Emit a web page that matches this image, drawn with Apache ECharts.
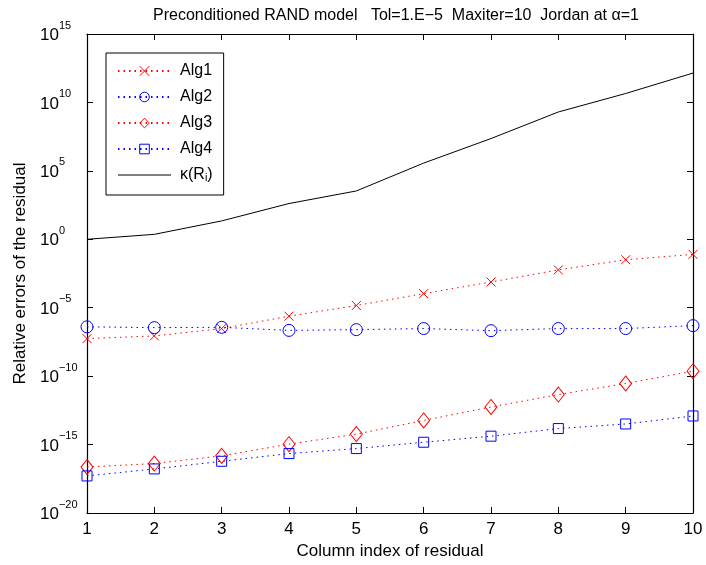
<!DOCTYPE html>
<html><head><meta charset="utf-8">
<script src="https://cdn.jsdelivr.net/npm/echarts@6/dist/echarts.min.js"></script>
<style>html,body{margin:0;padding:0;background:#fff}#c{width:706px;height:565px}</style>
</head><body><div id="c"></div>
<script>
// Data
const columns = [1, 2, 3, 4, 5, 6, 7, 8, 9, 10];
const alg1 = [5.5e-8, 8.7e-8, 3.0e-7, 2.4e-6, 1.45e-5, 1.07e-4, 7.6e-4, 5.8e-3, 3.2e-2, 7.9e-2];
const alg2 = [4.0e-7, 3.5e-7, 3.7e-7, 2.2e-7, 2.5e-7, 3.0e-7, 2.1e-7, 3.0e-7, 3.0e-7, 4.9e-7];
const alg3 = [2.3e-17, 4.1e-17, 1.5e-16, 1.07e-15, 5.8e-15, 5.8e-14, 5.6e-13, 4.5e-12, 2.9e-11, 2.3e-10];
const alg4 = [5.1e-18, 1.66e-17, 6.0e-17, 2.2e-16, 5.1e-16, 1.48e-15, 4.1e-15, 1.48e-14, 3.2e-14, 1.23e-13];
const kappa = [1.0, 2.3, 22, 410, 3400, 3.7e5, 2.3e7, 2.0e9, 4.5e10, 1.4e12];
const seriesNames = ['Alg1', 'Alg2', 'Alg3', 'Alg4', 'κ(Ri)'];
const titleText = 'Preconditioned RAND model   Tol=1.E\u22125  Maxiter=10  Jordan at \u03b1=1';
const xTitle = 'Column index of residual';
const yTitle = 'Relative errors of the residual';

const FONT = 'Liberation Sans, Arial, Helvetica, sans-serif';
const RED = '#ff0000', BLUE = '#0000ff';
const pairs = arr => columns.map((c, i) => [c, arr[i]]);

function dotted(name, data, color, symbol, size) {
  return {
    name, type: 'line', data: pairs(data),
    symbol, symbolSize: size, showSymbol: true,
    lineStyle: { color, width: 1, type: [1.5, 4] },
    itemStyle: { color: 'transparent', borderColor: color, borderWidth: 1 },
    emphasis: { disabled: true }, animation: false
  };
}

const chart = echarts.init(document.getElementById('c'), null, { renderer: 'canvas' });
const tickCommon = { inside: true, length: 6, lineStyle: { color: '#000', width: 1 } };
const axisLineCommon = { show: true, onZero: false, lineStyle: { color: '#000', width: 1.2 } };

chart.setOption({
  backgroundColor: '#fff',
  animation: false,
  textStyle: { fontFamily: FONT },
  title: {
    text: titleText, left: 391, top: 3, textAlign: 'center',
    textStyle: { fontFamily: FONT, fontSize: 16, fontWeight: 'normal', color: '#000' }
  },
  grid: { left: 87, right: 13, top: 34, bottom: 52, containLabel: false },
  legend: {
    orient: 'vertical', left: 106, top: 53,
    padding: [10, 11, 12, 11], itemGap: 10, itemWidth: 53, itemHeight: 12,
    borderColor: '#000', borderWidth: 1, backgroundColor: '#fff',
    itemStyle: { borderWidth: 1 },
    data: [
      { name: seriesNames[0] }, { name: seriesNames[1] }, { name: seriesNames[2] }, { name: seriesNames[3] },
      { name: seriesNames[4], icon: 'path://M0,0h100v2h-100z', itemStyle: { color: '#000' } }
    ],
    formatter: n => n === 'κ(Ri)' ? '{a|κ(R}{i|i}{a|)}' : n,
    textStyle: {
      fontFamily: FONT, fontSize: 16, color: '#000', lineHeight: 16, padding: [0, 0, 0, 4],
      rich: {
        a: { fontFamily: FONT, fontSize: 16, color: '#000', verticalAlign: 'top', padding: [0, 0, 4, 0] },
        i: { fontFamily: FONT, fontSize: 11, color: '#000', verticalAlign: 'bottom' }
      }
    }
  },
  xAxis: [{
    type: 'value', min: 1, max: 10, interval: 1, position: 'bottom',
    axisLine: axisLineCommon, axisTick: tickCommon, splitLine: { show: false },
    axisLabel: { fontFamily: FONT, fontSize: 17, color: '#000', margin: 8 },
    name: xTitle, nameLocation: 'middle', nameGap: 29,
    nameTextStyle: { fontFamily: FONT, fontSize: 17, color: '#000' }
  }, {
    type: 'value', min: 1, max: 10, interval: 1, position: 'top',
    axisLine: axisLineCommon, axisTick: tickCommon, splitLine: { show: false },
    axisLabel: { show: false }
  }],
  yAxis: [{
    type: 'log', logBase: 10, min: 1e-20, max: 1e15, interval: 5, splitNumber: 7, position: 'left',
    axisLine: axisLineCommon, axisTick: tickCommon, splitLine: { show: false }, minorTick: { show: false },
    axisLabel: {
      margin: 47, align: 'left',
      formatter: v => {
        const e = Math.round(Math.log10(v));
        return '{b|10}{s|' + (e < 0 ? '\u2212' + (-e) : String(e)) + '}';
      },
      rich: {
        b: { fontFamily: FONT, fontSize: 17, color: '#000', verticalAlign: 'bottom', padding: [7, 0, 4, 0] },
        s: { fontFamily: FONT, fontSize: 11, color: '#000', verticalAlign: 'top' }
      }
    },
    name: yTitle, nameLocation: 'middle', nameGap: 57, nameRotate: 90,
    nameTextStyle: { fontFamily: FONT, fontSize: 17, color: '#000' }
  }, {
    type: 'log', logBase: 10, min: 1e-20, max: 1e15, interval: 5, splitNumber: 7, position: 'right',
    axisLine: axisLineCommon, axisTick: tickCommon, splitLine: { show: false }, minorTick: { show: false },
    axisLabel: { show: false }
  }],
  series: [
    dotted('Alg1', alg1, RED, 'path://M0,0L10,10M0,10L10,0', 9),
    dotted('Alg2', alg2, BLUE, 'circle', 12),
    dotted('Alg3', alg3, RED, 'diamond', [12, 15]),
    dotted('Alg4', alg4, BLUE, 'rect', 10),
    {
      name: 'κ(Ri)', type: 'line', data: pairs(kappa), symbol: 'none', showSymbol: false,
      lineStyle: { color: '#000', width: 1, type: 'solid' },
      itemStyle: { color: '#000' }, emphasis: { disabled: true }, animation: false
    }
  ]
});
</script>
</body></html>
